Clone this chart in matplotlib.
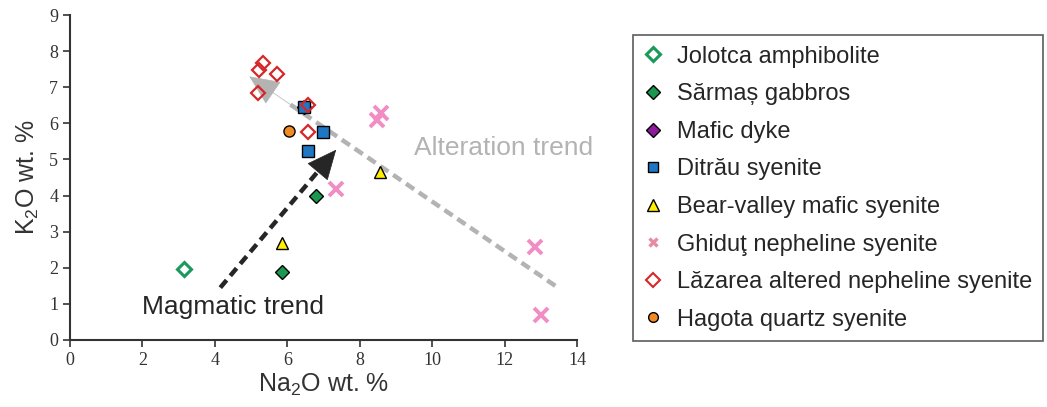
import matplotlib
matplotlib.use("Agg")
import matplotlib.pyplot as plt
from matplotlib.lines import Line2D

plt.rcParams['mathtext.fontset'] = 'custom'
plt.rcParams['mathtext.rm'] = 'Liberation Sans'
plt.rcParams['mathtext.it'] = 'Liberation Sans'

# ---- data (Na2O, K2O) ----
jolotca_x = [3.15]
jolotca_y = [1.96]
sarmas_x = [5.85, 6.8]
sarmas_y = [1.88, 3.98]
mafic_x = [6.45]
mafic_y = [6.45]
ditrau_x = [6.45, 6.98, 6.58]
ditrau_y = [6.45, 5.75, 5.23]
bear_x = [5.85, 8.55]
bear_y = [2.7, 4.64]
ghidut_x = [7.35, 8.48, 8.58, 12.85, 13.0]
ghidut_y = [4.18, 6.1, 6.28, 2.58, 0.7]
lazarea_x = [5.33, 5.22, 5.72, 5.2, 6.56, 6.58]
lazarea_y = [7.66, 7.48, 7.36, 6.84, 6.5, 5.76]
hagota_x = [6.05]
hagota_y = [5.8]

magmatic_start = (4.15, 1.45)
magmatic_end = (7.35, 5.27)
alteration_start = (13.4, 1.5)
alteration_end = (4.95, 7.3)

x_ticks = [0, 2, 4, 6, 8, 10, 12, 14]
y_ticks = [0, 1, 2, 3, 4, 5, 6, 7, 8, 9]

fig = plt.figure(figsize=(10.47, 4.07), dpi=100)
ax = fig.add_axes([70/1047, 67/407, (577-70)/1047, (340-15)/407])
ax.set_xlim(0, 14)
ax.set_ylim(0, 9)


def trend_arrow(start, end, color):
    frac = 0.88
    mid = (start[0] + (end[0] - start[0]) * frac, start[1] + (end[1] - start[1]) * frac)
    ax.plot([start[0], mid[0]], [start[1], mid[1]], color=color, lw=3.2,
            dashes=(2.2, 1.3), solid_capstyle='butt', dash_capstyle='butt', zorder=2)
    pre = (start[0] + (end[0] - start[0]) * 0.84, start[1] + (end[1] - start[1]) * 0.84)
    ax.annotate('', xy=end, xytext=pre,
                arrowprops=dict(arrowstyle='-|>,head_length=1.0,head_width=0.45', color=color,
                                lw=0.5, shrinkA=0, shrinkB=0, mutation_scale=20), zorder=2)


trend_arrow(alteration_start, alteration_end, '#b3b3b3')
trend_arrow(magmatic_start, magmatic_end, '#262626')

ax.plot(jolotca_x, jolotca_y, 'D', ms=7, mfc='white', mec='#1a9a5a', mew=2.2, ls='none', zorder=3)
ax.plot(sarmas_x, sarmas_y, 'D', ms=7, mfc='#1a9850', mec='black', mew=1, ls='none', zorder=3)
ax.plot(mafic_x, mafic_y, 'D', ms=7, mfc='#8e1b9c', mec='black', mew=1, ls='none', zorder=3)
ax.plot(ditrau_x, ditrau_y, 's', ms=8, mfc='#1f77c4', mec='black', mew=1, ls='none', zorder=4)
ax.plot(bear_x, bear_y, '^', ms=9, mfc='#ffee00', mec='black', mew=1, ls='none', zorder=3)
ax.plot(ghidut_x, ghidut_y, 'x', ms=10, mec='#f28cc4', mew=2.8, ls='none', zorder=3)
ax.plot(lazarea_x, lazarea_y, 'D', ms=7, mfc='none', mec='#d62728', mew=1.6, ls='none', zorder=5)
ax.plot(hagota_x, hagota_y, 'o', ms=8, mfc='#f08a24', mec='black', mew=1, ls='none', zorder=3)

ax.text(4.5, 0.92, 'Magmatic trend', ha='center', va='center', fontsize=19,
        family='Liberation Sans', color='#262626')
ax.text(9.5, 5.32, 'Alteration trend', ha='left', va='center', fontsize=19,
        family='Liberation Sans', color='#b3b3b3', clip_on=False)

for s in ['top', 'right']:
    ax.spines[s].set_visible(False)
for s in ['left', 'bottom']:
    ax.spines[s].set_color('#333333')
    ax.spines[s].set_linewidth(1.5)
ax.set_xticks(x_ticks)
ax.set_yticks(y_ticks)
ax.tick_params(direction='out', length=5, width=1.2, color='#333333', labelsize=13)
for lab in ax.get_xticklabels() + ax.get_yticklabels():
    lab.set_family('Liberation Serif')
    lab.set_color('#333333')
ax.set_xlabel(r'Na$_2$O wt. %', fontsize=18, family='Liberation Sans', color='#333333', labelpad=2)
ax.set_ylabel(r'K$_2$O wt. %', fontsize=18, family='Liberation Sans', color='#333333', labelpad=6)

handles = [
    Line2D([], [], marker='D', ms=7, mfc='white', mec='#1a9a5a', mew=2.2, ls='none'),
    Line2D([], [], marker='D', ms=7, mfc='#1a9850', mec='black', mew=1, ls='none'),
    Line2D([], [], marker='D', ms=7, mfc='#8e1b9c', mec='black', mew=1, ls='none'),
    Line2D([], [], marker='s', ms=7, mfc='#1f77c4', mec='black', mew=1, ls='none'),
    Line2D([], [], marker='^', ms=8, mfc='#ffee00', mec='black', mew=1, ls='none'),
    Line2D([], [], marker='x', ms=6, mec='#e88ca6', mew=2.4, ls='none'),
    Line2D([], [], marker='D', ms=7, mfc='white', mec='#d62728', mew=1.5, ls='none'),
    Line2D([], [], marker='o', ms=7, mfc='#f08a24', mec='black', mew=1, ls='none'),
]
labels = ['Jolotca amphibolite', 'Sărmaș gabbros', 'Mafic dyke', 'Ditrău syenite',
          'Bear-valley mafic syenite', 'Ghiduţ nepheline syenite',
          'Lăzarea altered nepheline syenite', 'Hagota quartz syenite']
leg = fig.legend(handles, labels, loc='upper left', bbox_to_anchor=(633/1047, 1 - 35/407),
                 frameon=True, fancybox=False, edgecolor='#333333',
                 prop={'family': 'Liberation Sans', 'size': 17},
                 labelspacing=0.66, handlelength=0.8, handletextpad=0.6, borderpad=0.45,
                 borderaxespad=0)
leg.get_frame().set_linewidth(1.2)
for t in leg.get_texts():
    t.set_color('#262626')

fig.savefig('out.png', dpi=100)
